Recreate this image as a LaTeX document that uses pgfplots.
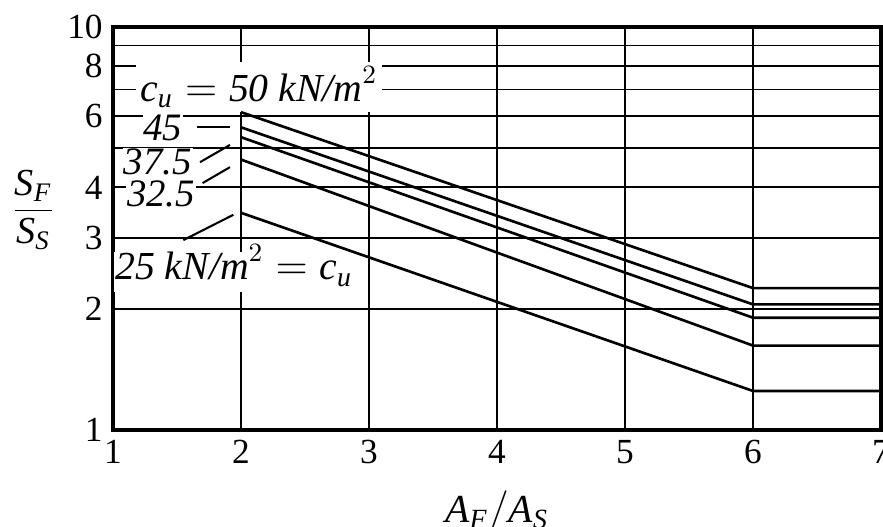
\documentclass[border=0pt]{standalone}
\usepackage{fontspec}
\setmainfont{Liberation Serif}
\usepackage{amsmath}
\usepackage{pgfplots}
\pgfplotsset{compat=1.18}
\begin{document}
\begin{tikzpicture}
\begin{axis}[name=ax,
  scale only axis, width=261.1pt, height=137pt,
  xmin=1, xmax=7, ymin=1, ymax=10, ymode=log,
  xtick={1,2,3,4,5,6,7},
  ytick={1,2,3,4,6,8,10}, yticklabels={1,2,3,4,6,8,10},
  minor ytick={5,7,9},
  grid=both,
  major grid style={black, line width=0.65pt},
  minor grid style={black, line width=0.65pt},
  major tick length=0pt, minor tick length=0pt,
  axis line style={line width=1.2pt},
  tick label style={font=\fontsize{12}{14}\selectfont},
  /pgf/number format/assume math mode=true,
  clip=false,
]
% curve labels (white boxes hide the grid, drawn before the curves)
\node[fill=white, inner sep=1.5pt, font=\fontsize{13.5}{15}\selectfont] at (axis cs:2.14,7.10)
  {$\textit{c}_{\textit{u}} = \textit{50 kN/m}^{2}$};
\node[fill=white, inner sep=0.3pt, font=\fontsize{13.2}{15}\selectfont] at (axis cs:1.39,5.62) {\textit{45}};
\node[fill=white, inner sep=0.3pt, font=\fontsize{13.2}{15}\selectfont] at (axis cs:1.35,4.62) {\textit{37.5}};
\node[fill=white, inner sep=0.3pt, font=\fontsize{13.2}{15}\selectfont] at (axis cs:1.375,3.85) {\textit{32.5}};
\node[fill=white, inner sep=0.5pt, text height=9pt, text depth=3.5pt,
  font=\fontsize{13.5}{15}\selectfont] at (axis cs:1.945,2.47)
  {$\textit{25 kN/m}^{2} = \textit{c}_{\textit{u}}$};
\addplot[black, line width=0.9pt] coordinates {(2,6.15) (6,2.25) (7,2.25)};
\addplot[black, line width=0.9pt] coordinates {(2,5.64) (6,2.05) (7,2.05)};
\addplot[black, line width=0.9pt] coordinates {(2,5.33) (6,1.90) (7,1.90)};
\addplot[black, line width=0.9pt] coordinates {(2,4.69) (6,1.62) (7,1.62)};
\addplot[black, line width=0.9pt] coordinates {(2,3.46) (6,1.25) (7,1.25)};
% leader lines
\draw[line width=0.7pt] (axis cs:1.656,5.65) -- (axis cs:1.914,5.65);
\draw[line width=0.7pt] (axis cs:1.68,4.62) -- (axis cs:1.914,5.10);
\draw[line width=0.7pt] (axis cs:1.70,4.10) -- (axis cs:1.914,4.49);
\draw[line width=0.7pt] (axis cs:1.55,2.96) -- (axis cs:1.94,3.42);
% axis labels
\node[font=\fontsize{13}{15}\selectfont] at (rel axis cs:-0.104,0.546)
  {$\dfrac{\textit{S}_{\textit{F}}}{\textit{S}_{\textit{S}}}$};
\node[font=\fontsize{13.5}{15}\selectfont] at (rel axis cs:0.5,-0.203)
  {$\textit{A}_{\textit{F}}/\textit{A}_{\textit{S}}$};
\end{axis}
\pgfresetboundingbox
\path[use as bounding box] (ax.south west) ++(-38.42pt,-32.98pt) rectangle ++(300.22pt,179.18pt);
\end{tikzpicture}
\end{document}
